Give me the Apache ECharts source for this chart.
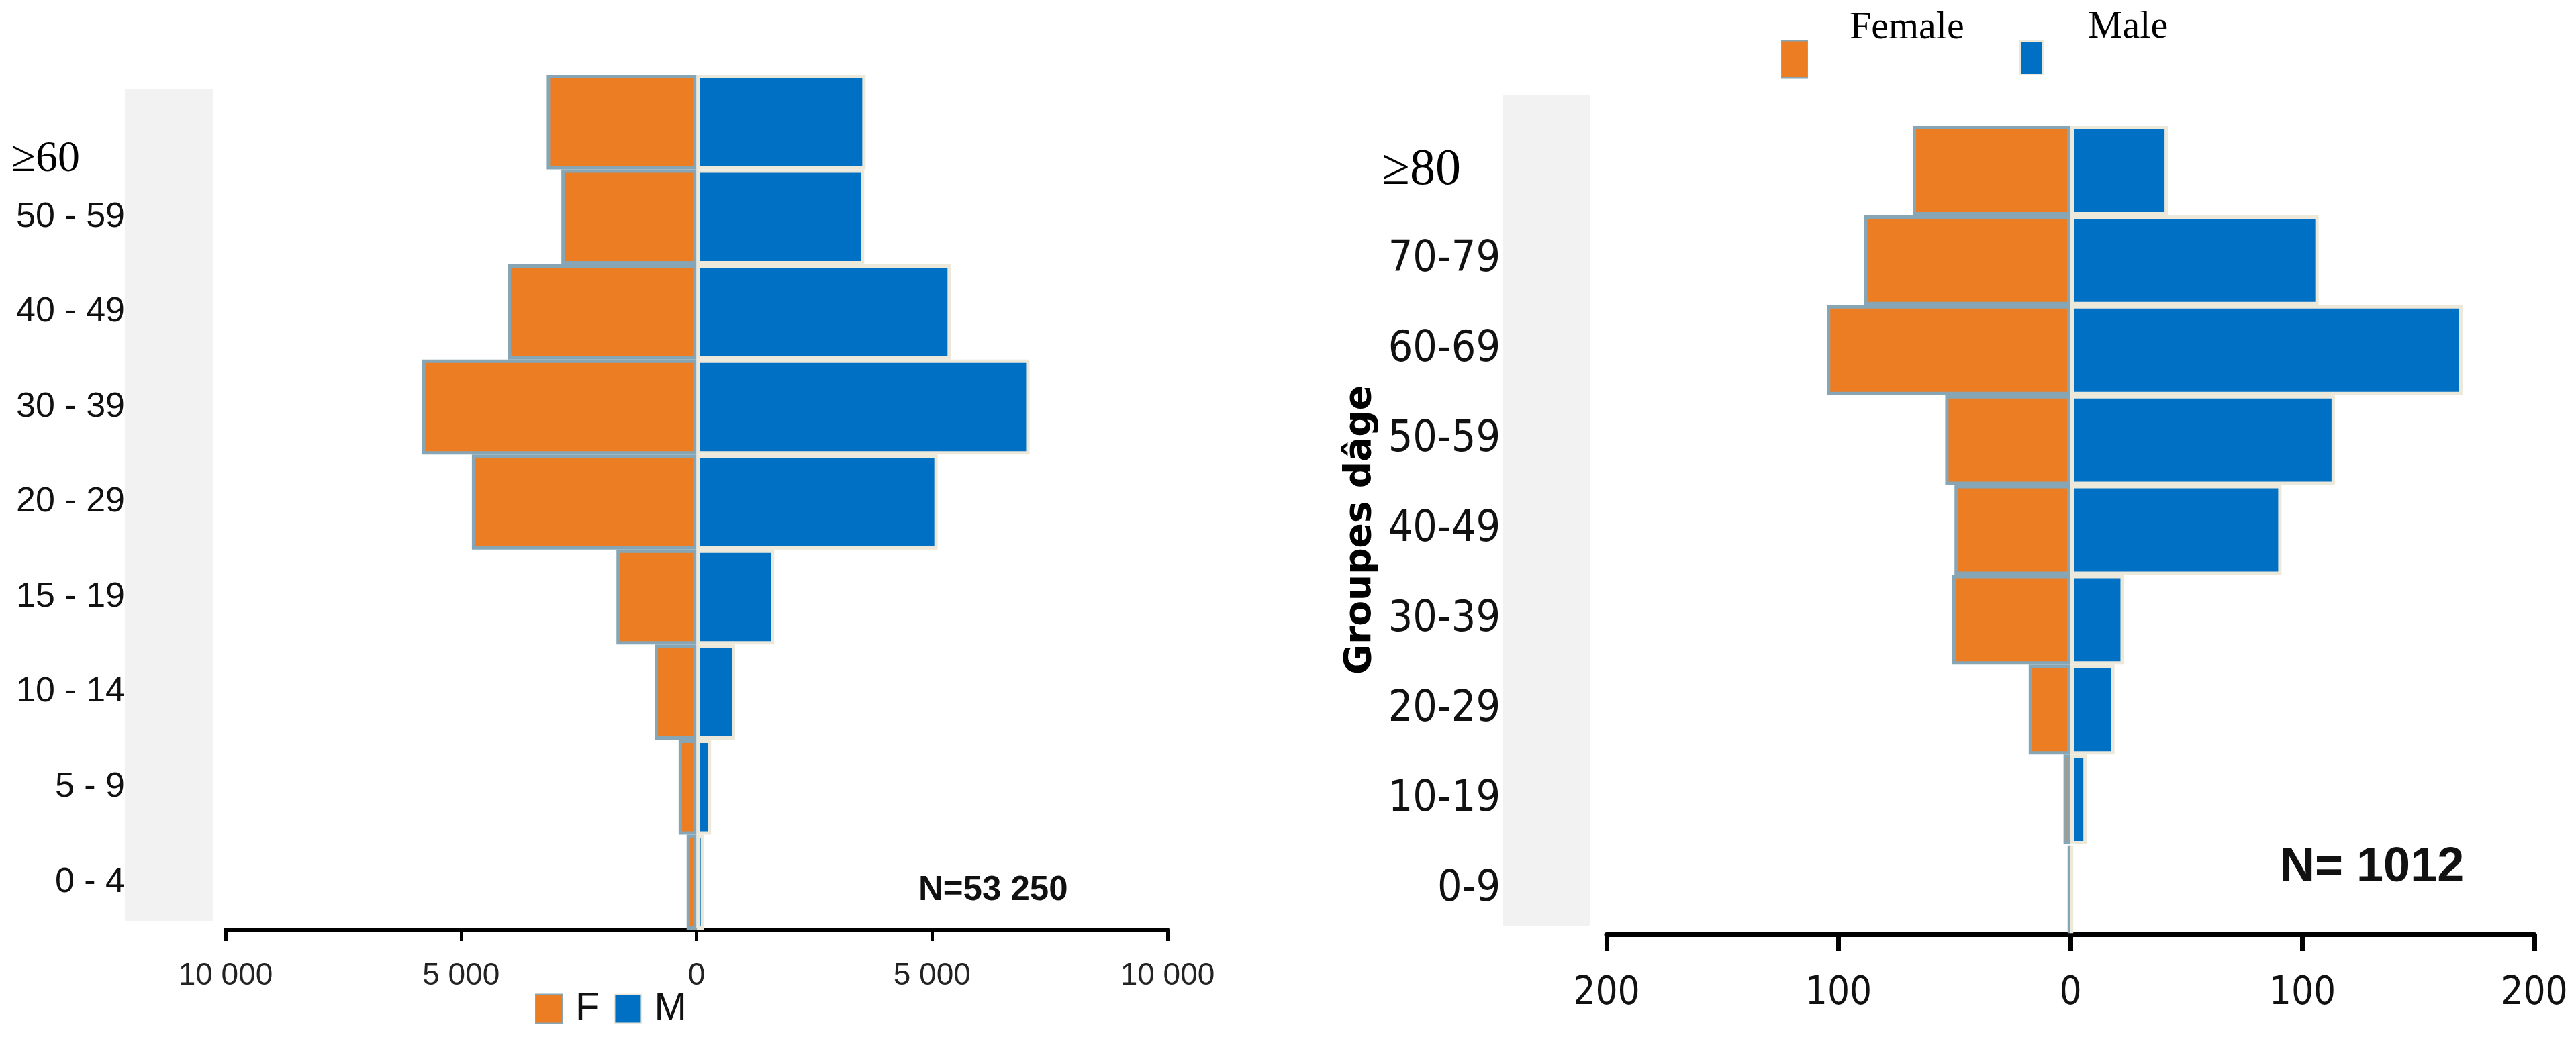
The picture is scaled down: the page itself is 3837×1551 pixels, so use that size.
<!DOCTYPE html>
<html>
<head>
<meta charset="utf-8">
<script src="https://cdn.jsdelivr.net/npm/echarts@6/dist/echarts.min.js"></script>
<style>
html,body{margin:0;padding:0;background:#fff;}
#c{width:3837px;height:1551px;}
</style>
</head>
<body>
<div id="c"></div>
<script>
// ---- Left pyramid (N=53 250) ----
var leftCategories = ['≥60', '50 - 59', '40 - 49', '30 - 39', '20 - 29', '15 - 19', '10 - 14', '5 - 9', '0 - 4'];
var leftFemale = [3180, 2870, 4010, 5830, 4770, 1700, 890, 380, 210];
var leftMale   = [3590, 3560, 5400, 7070, 5120, 1650, 820, 310, 160];
var leftTicks  = [-10000, -5000, 0, 5000, 10000];

// ---- Right pyramid (N= 1012) ----
var rightCategories = ['≥80', '70-79', '60-69', '50-59', '40-49', '30-39', '20-29', '10-19', '0-9'];
var rightFemale = [68, 89, 105, 54, 50, 51, 18, 3, 1];
var rightMale   = [42, 107, 169, 114, 91, 23, 19, 7, 1];
var rightTicks  = [-200, -100, 0, 100, 200];

var ORANGE = '#ED7D22', ORANGE_BORDER = '#86a6b6';
var BLUE = '#0070C4', BLUE_BORDER = '#ece8da';
var NARROW = "'DejaVu Sans Condensed', 'Liberation Sans Narrow', 'Liberation Sans', Arial, sans-serif";
var SANS = "'Liberation Sans', Arial, sans-serif";
var SERIF = "'Liberation Serif', 'Times New Roman', serif";

function fmtThousands(v) {
  return String(Math.abs(v)).replace(/\B(?=(\d{3})+(?!\d))/g, ' ');
}
function neg(arr) { return arr.map(function (v) { return -v; }); }
function raised(name) { return name + '\n '; }

var chart = echarts.init(document.getElementById('c'), null, {renderer: 'canvas'});

var option = {
  animation: false,
  backgroundColor: '#ffffff',
  graphic: [
    {type: 'rect', z: -10, shape: {x: 186, y: 132, width: 132, height: 1240}, style: {fill: '#f2f2f2'}},
    {type: 'rect', z: -10, shape: {x: 2239, y: 142, width: 130, height: 1238}, style: {fill: '#f2f2f2'}}
  ],
  title: [
    {text: 'N=53 250', left: 1368, top: 1301, padding: 0,
     textStyle: {fontFamily: SANS, fontWeight: 'bold', fontSize: 51, color: '#111'}},
    {text: 'N= 1012', left: 3396, top: 1257, padding: 0,
     textStyle: {fontFamily: SANS, fontWeight: 'bold', fontSize: 72, color: '#111'}}
  ],
  legend: [
    {data: ['F', 'M'], left: 797, top: 1474, padding: 0, icon: 'rect',
     itemWidth: 40, itemHeight: 43, itemGap: 22,
     textStyle: {fontFamily: SANS, fontSize: 58, color: '#111', padding: [0, 0, 0, 14]}},
    {data: ['Female'], left: 2653, top: -4, padding: 0, icon: 'rect',
     itemWidth: 38, itemHeight: 55, formatter: raised,
     textStyle: {fontFamily: SERIF, fontSize: 58, lineHeight: 92, color: '#000', padding: [0, 0, 0, 58]}},
    {data: ['Male'], left: 3008, top: -4, padding: 0, icon: 'rect',
     itemWidth: 34, itemHeight: 50, formatter: raised,
     textStyle: {fontFamily: SERIF, fontSize: 58, lineHeight: 90, color: '#000', padding: [0, 0, 0, 62]}}
  ],
  grid: [
    {left: 336, width: 1403, top: 111, height: 1274},
    {left: 2393, width: 1382, top: 187, height: 1205}
  ],
  xAxis: [
    {type: 'value', gridIndex: 0, min: leftTicks[0], max: leftTicks[leftTicks.length - 1], interval: 5000,
     splitLine: {show: false},
     axisLine: {show: true, onZero: false, lineStyle: {color: '#000', width: 6}},
     axisTick: {show: true, length: 17, lineStyle: {color: '#000', width: 5}},
     axisLabel: {margin: 46, fontFamily: SANS, fontSize: 46, color: '#222', formatter: fmtThousands}},
    {type: 'value', gridIndex: 1, min: rightTicks[0], max: rightTicks[rightTicks.length - 1], interval: 100,
     splitLine: {show: false},
     axisLine: {show: true, onZero: false, lineStyle: {color: '#000', width: 7}},
     axisTick: {show: true, length: 25, lineStyle: {color: '#000', width: 7}},
     axisLabel: {margin: 60, fontFamily: NARROW, fontSize: 58, color: '#111', formatter: fmtThousands}}
  ],
  yAxis: [
    {type: 'category', gridIndex: 0, data: leftCategories, inverse: true,
     axisLine: {show: false, onZero: false}, axisTick: {show: false}, splitLine: {show: false},
     axisLabel: {margin: 150, fontFamily: SANS, fontSize: 52, color: '#111',
       formatter: function (v, i) { return i === 0 ? '{ge|' + v + '}' : v; },
       rich: {ge: {fontFamily: SERIF, fontSize: 66, color: '#000', padding: [112, 67, 0, 0]}}}},
    {type: 'category', gridIndex: 1, data: rightCategories, inverse: true,
     name: 'Groupes dâge', nameLocation: 'middle', nameRotate: 90, nameGap: 338,
     nameTextStyle: {fontFamily: "'DejaVu Sans', sans-serif", fontWeight: 'bold', fontSize: 55, color: '#000'},
     axisLine: {show: false, onZero: false}, axisTick: {show: false}, splitLine: {show: false},
     axisLabel: {margin: 158, fontFamily: NARROW, fontSize: 64, color: '#111',
       formatter: function (v, i) { return i === 0 ? '{ge|' + v + '}' : v; },
       rich: {ge: {fontFamily: SERIF, fontSize: 76, color: '#000', padding: [0, 59, 0, 0]}}}}
  ],
  series: [
    {name: 'F', type: 'bar', xAxisIndex: 0, yAxisIndex: 0, stack: 'L', barWidth: '100%',
     data: neg(leftFemale),
     itemStyle: {color: ORANGE, borderColor: ORANGE_BORDER, borderWidth: 5}},
    {name: 'M', type: 'bar', xAxisIndex: 0, yAxisIndex: 0, stack: 'L', barWidth: '100%',
     data: leftMale,
     itemStyle: {color: BLUE, borderColor: BLUE_BORDER, borderWidth: 5}},
    {name: 'Female', type: 'bar', xAxisIndex: 1, yAxisIndex: 1, stack: 'R', barWidth: '100%',
     data: neg(rightFemale),
     itemStyle: {color: ORANGE, borderColor: ORANGE_BORDER, borderWidth: 5}},
    {name: 'Male', type: 'bar', xAxisIndex: 1, yAxisIndex: 1, stack: 'R', barWidth: '100%',
     data: rightMale,
     itemStyle: {color: BLUE, borderColor: BLUE_BORDER, borderWidth: 5}}
  ]
};
chart.setOption(option);
</script>
</body>
</html>
